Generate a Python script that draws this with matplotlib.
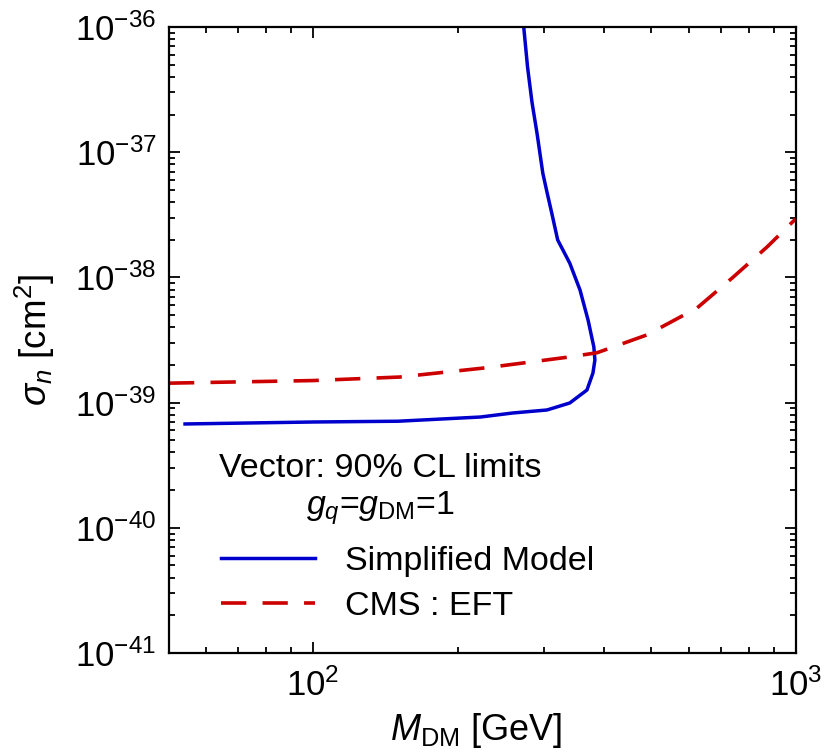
import numpy as np
import matplotlib
matplotlib.use('Agg')
import matplotlib.pyplot as plt
from matplotlib.ticker import LogLocator, NullFormatter

plt.rcParams['font.family'] = ['Liberation Sans', 'DejaVu Sans']
plt.rcParams['mathtext.fontset'] = 'custom'
plt.rcParams['mathtext.rm'] = 'Liberation Sans'
plt.rcParams['mathtext.it'] = 'Liberation Sans:italic'
plt.rcParams['mathtext.bf'] = 'Liberation Sans:bold'

# simplified model limit (closed contour)
sm_mass = [54.3, 100, 150, 222, 259, 305, 340, 369, 379.7, 383.3, 381.4, 371,
           357, 340, 321, 312, 305, 299, 291, 284, 278, 273]
sm_sigma = [6.75e-40, 7.0e-40, 7.1e-40, 7.67e-40, 8.26e-40, 8.73e-40, 9.93e-40,
            1.26e-39, 1.72e-39, 2.19e-39, 2.78e-39, 4.57e-39, 7.94e-39,
            1.3e-38, 1.99e-38, 3.27e-38, 4.8e-38, 6.8e-38, 1.4e-37, 2.5e-37,
            4.8e-37, 1.0e-36]

# CMS EFT limit
cms_mass = [50.3, 100, 151, 229, 335, 387, 491, 624, 740, 871, 1000]
cms_sigma = [1.43e-39, 1.5e-39, 1.6e-39, 1.9e-39, 2.3e-39, 2.5e-39, 3.47e-39,
             5.7e-39, 1.0e-38, 1.75e-38, 2.95e-38]

x_ticks = [1e2, 1e3]
y_ticks = [1e-41, 1e-40, 1e-39, 1e-38, 1e-37, 1e-36]

fig = plt.figure(figsize=(8.38, 7.55), dpi=100)
ax = fig.add_axes([169 / 838, 102 / 755, 627 / 838, 626 / 755])

ax.plot(sm_mass, sm_sigma, color='#0000cc', lw=2.5, label='Simplified Model',
        solid_joinstyle='round')
ax.plot(cms_mass, cms_sigma, color='#cc0000', lw=2.6, dashes=(7, 4.5),
        label='CMS : EFT')

ax.set_xscale('log')
ax.set_yscale('log')
ax.set_xlim(50.3, 1000)
ax.set_ylim(1e-41, 1e-36)

ax.set_xticks(x_ticks)
ax.set_yticks(y_ticks)
ax.xaxis.set_minor_locator(LogLocator(base=10, subs=np.arange(2, 10)))
ax.xaxis.set_minor_formatter(NullFormatter())
ax.yaxis.set_minor_locator(LogLocator(base=10, subs=np.arange(2, 10), numticks=10))
ax.yaxis.set_minor_formatter(NullFormatter())

ax.tick_params(which='both', direction='in', top=True, right=True, width=1.3)
ax.tick_params(which='major', length=8, labelsize=25)
ax.tick_params(which='minor', length=4)
ax.tick_params(axis='x', which='major', pad=11)
ax.tick_params(axis='y', which='major', pad=9)
for s in ax.spines.values():
    s.set_linewidth(1.6)

ax.set_xlabel(r'$M_{\rm DM}$ [GeV]', fontsize=26)
ax.set_ylabel(r'$\sigma_n$ [cm$^2$]', fontsize=26.5)
ax.xaxis.set_label_coords(0.49, -0.092)
ax.yaxis.set_label_coords(-0.179, 0.5)

ax.text(0.337, 0.2955, 'Vector: 90% CL limits', transform=ax.transAxes,
        fontsize=24.5, ha='center', va='center')
ax.text(0.337, 0.231, r'$g_q$=$g_{\rm DM}$=1', transform=ax.transAxes,
        fontsize=24.5, ha='center', va='center')

ax.legend(loc='lower left', bbox_to_anchor=(0.034, 0.0), frameon=False,
          fontsize=24.5, handlelength=2.76, handletextpad=0.88, labelspacing=0.43)

fig.savefig('out.png', dpi=100)
